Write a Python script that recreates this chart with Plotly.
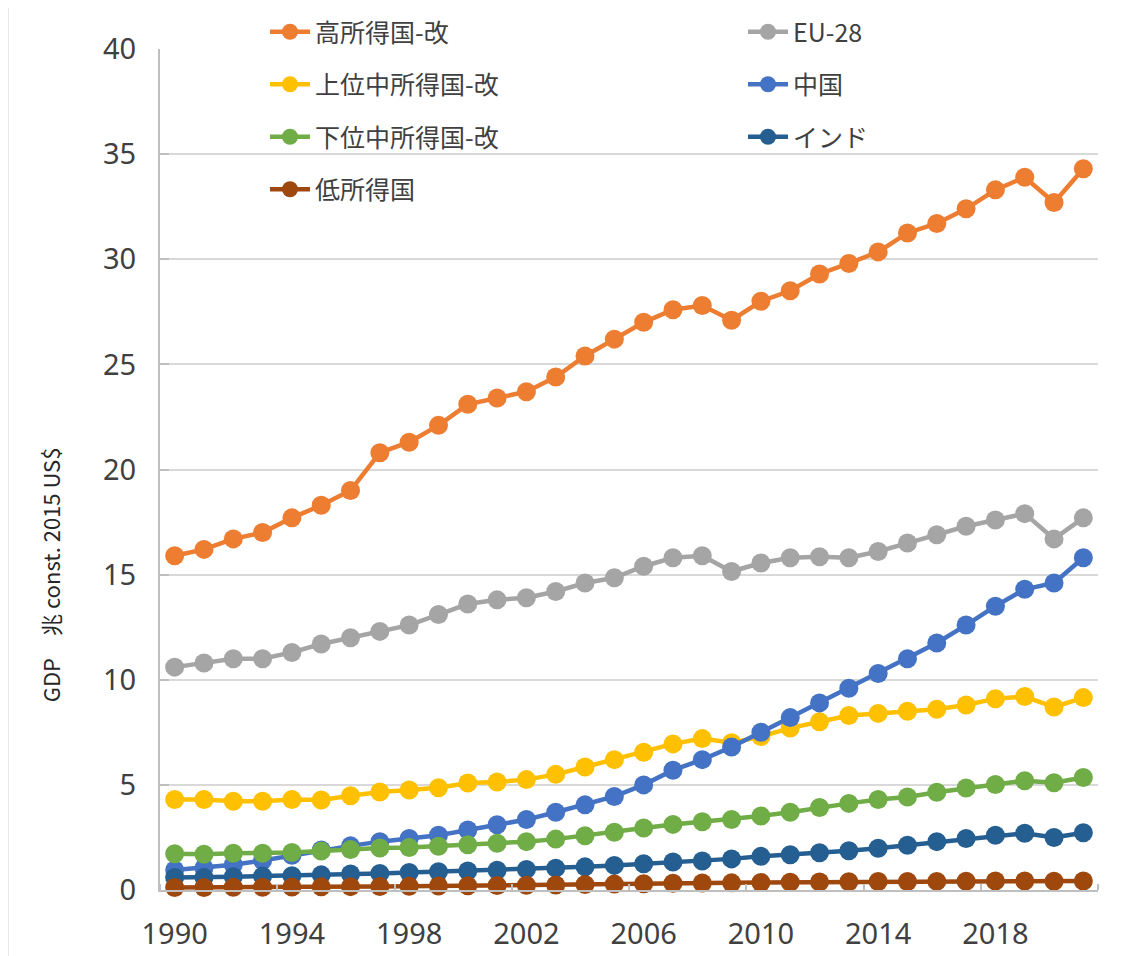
import plotly.graph_objects as go

years = list(range(1990, 2022))

high_income = [15.9, 16.2, 16.7, 17.0, 17.7, 18.3, 19.0, 20.8, 21.3, 22.1, 23.1, 23.4, 23.7, 24.4, 25.4, 26.2,
               27.0, 27.6, 27.8, 27.1, 28.0, 28.5, 29.3, 29.8, 30.35, 31.25, 31.7, 32.4, 33.3, 33.9, 32.7, 34.3]
eu28 = [10.6, 10.8, 11.0, 11.0, 11.3, 11.7, 12.0, 12.3, 12.6, 13.1, 13.6, 13.8, 13.9, 14.2, 14.6, 14.85,
        15.4, 15.8, 15.9, 15.15, 15.55, 15.8, 15.85, 15.8, 16.1, 16.5, 16.9, 17.3, 17.6, 17.9, 16.7, 17.7]
upper_middle = [4.3, 4.3, 4.22, 4.22, 4.3, 4.28, 4.48, 4.66, 4.76, 4.86, 5.09, 5.14, 5.25, 5.5, 5.85, 6.2,
                6.55, 6.95, 7.2, 7.0, 7.3, 7.7, 8.0, 8.3, 8.4, 8.5, 8.6, 8.8, 9.1, 9.2, 8.7, 9.15]
china = [0.95, 1.05, 1.2, 1.4, 1.65, 1.9, 2.1, 2.3, 2.45, 2.6, 2.85, 3.1, 3.35, 3.7, 4.05, 4.45,
         5.0, 5.7, 6.2, 6.8, 7.5, 8.2, 8.9, 9.6, 10.3, 11.0, 11.75, 12.6, 13.5, 14.3, 14.6, 15.8]
lower_middle = [1.72, 1.7, 1.75, 1.75, 1.78, 1.85, 1.93, 2.0, 2.02, 2.08, 2.15, 2.22, 2.3, 2.42, 2.58, 2.75,
                2.95, 3.12, 3.25, 3.35, 3.52, 3.7, 3.92, 4.12, 4.3, 4.42, 4.65, 4.85, 5.02, 5.2, 5.1, 5.35]
india = [0.6, 0.6, 0.63, 0.66, 0.68, 0.72, 0.76, 0.79, 0.83, 0.87, 0.9, 0.94, 0.98, 1.04, 1.1, 1.17,
         1.25, 1.33, 1.38, 1.48, 1.6, 1.68, 1.77, 1.87, 1.99, 2.13, 2.3, 2.45, 2.6, 2.7, 2.5, 2.72]
low_income = [0.12, 0.12, 0.13, 0.13, 0.14, 0.15, 0.16, 0.17, 0.18, 0.19, 0.2, 0.21, 0.23, 0.24, 0.26, 0.28,
              0.3, 0.32, 0.33, 0.34, 0.36, 0.37, 0.38, 0.39, 0.4, 0.4, 0.41, 0.42, 0.43, 0.43, 0.42, 0.43]

names = ["高所得国-改", "EU-28", "上位中所得国-改", "中国", "下位中所得国-改", "インド", "低所得国"]
series = [high_income, eu28, upper_middle, china, lower_middle, india, low_income]
colors = ["#ED7D31", "#A5A5A5", "#FFC000", "#4472C4", "#70AD47", "#255E91", "#9E480E"]
legends = ["legend", "legend2", "legend", "legend2", "legend", "legend2", "legend"]

x_tick_vals = list(range(1990, 2019, 4))
x_minor_vals = [y - 0.5 for y in range(1990, 2023, 4)]

W, H = 1123, 948  # page body has an 8px margin

fig = go.Figure()
for i, (nm, vals, col, lg) in enumerate(zip(names, series, colors, legends)):
    fig.add_trace(go.Scatter(
        x=years, y=vals, name=nm, mode="lines+markers",
        line=dict(color=col, width=4.5),
        marker=dict(color=col, size=19),
        legend=lg, legendgroup=f"g{i}", cliponaxis=False,
    ))

legend_common = dict(
    bgcolor="rgba(0,0,0,0)", borderwidth=0,
    font=dict(family="Noto Sans CJK JP", size=25, color="#404040"),
    traceorder="grouped", tracegroupgap=17, itemwidth=40,
    xref="container", yref="container",
    xanchor="left", yanchor="top", orientation="v",
)

fig.update_layout(
    width=W, height=H,
    margin=dict(l=152, r=33, t=41, b=66, autoexpand=False),
    paper_bgcolor="white", plot_bgcolor="white",
    font=dict(family="Noto Sans", color="#404040"),
    showlegend=True,
    legend=dict(x=257 / W, y=1 - 1 / H, **legend_common),
    legend2=dict(x=735 / W, y=1 - 1 / H, **legend_common),
    xaxis=dict(
        range=[1989.5, 2021.5], tickmode="array", tickvals=x_tick_vals,
        ticktext=[str(v) for v in x_tick_vals],
        showgrid=False, zeroline=False, showline=True, linecolor="#bfbfbf", linewidth=2,
        ticks="", ticklabelstandoff=17,
        tickfont=dict(family="Noto Sans", size=29, color="#404040"),
        minor=dict(tickmode="array", tickvals=x_minor_vals, ticks="inside", ticklen=6,
                   tickcolor="#bfbfbf", tickwidth=1.5, showgrid=False),
    ),
    yaxis=dict(
        range=[0, 40], dtick=5, tick0=0,
        showgrid=True, gridcolor="#d9d9d9", gridwidth=1.5,
        zeroline=False, showline=True, linecolor="#bfbfbf", linewidth=2,
        ticks="inside", ticklen=9, tickcolor="#bfbfbf", tickwidth=1.5,
        ticklabelstandoff=16,
        tickfont=dict(family="Noto Sans", size=29, color="#404040"),
    ),
    annotations=[dict(
        text="GDP　兆 const. 2015 US$", textangle=-90,
        xref="paper", yref="paper", x=-0.117, y=0.3746,
        xanchor="center", yanchor="middle", showarrow=False,
        font=dict(family="Noto Sans CJK JP", size=22, color="#262626"),
    )],
    shapes=[dict(type="line", xref="paper", yref="paper",
                 x0=-0.163, x1=-0.163, y0=-0.1, y1=1.1,
                 line=dict(color="#d9d9d9", width=3))],
)

fig.write_html("out.html")
